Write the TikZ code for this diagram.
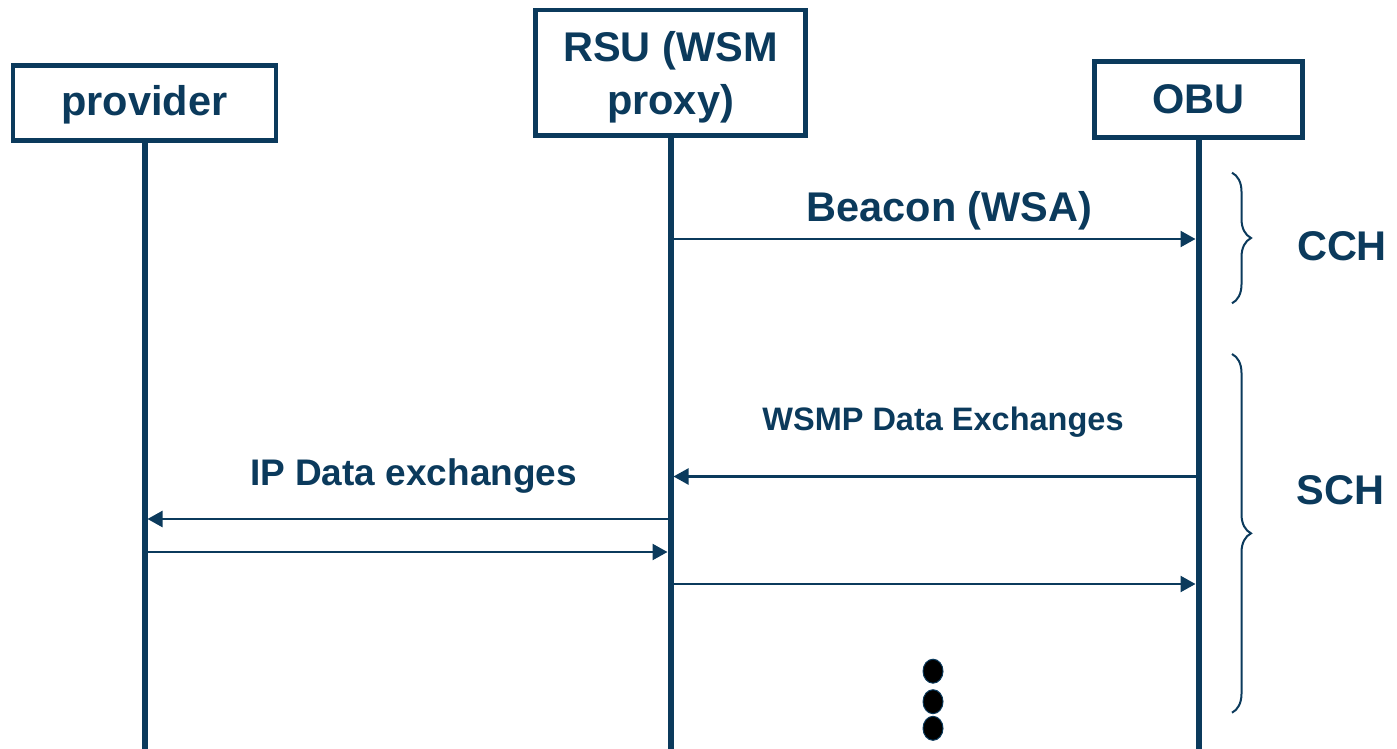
\documentclass[tikz,border=0pt]{standalone}
\usepackage{fontspec}
\setmainfont{Liberation Sans}
\usetikzlibrary{arrows.meta,decorations.pathreplacing}
\definecolor{navy}{HTML}{0B3A5C}
\begin{document}
\begin{tikzpicture}[x=1pt,y=-1pt,
  bigfont/.style={font=\bfseries\fontsize{41.5}{53}\selectfont},
  actor/.style={draw=navy,line width=4.5pt,fill=white,inner sep=0pt,
    text=navy,align=center,bigfont},
  lifeline/.style={draw=navy,line width=6pt},
  msg/.style={draw=navy,line width=2.3pt,shorten >=3pt,shorten <=3pt,
    -{Triangle[length=15pt,width=16pt]}},
  lbl/.style={text=navy,anchor=base,inner sep=0pt},
  chbrace/.style={draw=navy,line width=2pt,decorate,
    decoration={brace,amplitude=19pt}}]
\useasboundingbox (0,0) rectangle (1397,749);

% participants
\node[actor,minimum width=263pt,minimum height=75pt] (provider) at (144.5,103) {\rule{0pt}{34pt}provider};
\node[actor,minimum width=270pt,minimum height=125.5pt] (rsu) at (670.5,72.75) {\rule{0pt}{40pt}RSU (WSM\\proxy)};
\node[actor,minimum width=208pt,minimum height=76pt] (obu) at (1198.5,99.5) {OBU};

% lifelines
\coordinate (bottom) at (0,749);
\draw[lifeline] (provider.south) -- (provider.south |- bottom);
\draw[lifeline] (rsu.south) -- (rsu.south |- bottom);
\draw[lifeline] (obu.south) -- (obu.south |- bottom);

% message rows
\coordinate (m1) at (0,239);
\coordinate (m2) at (0,476.5);
\coordinate (m3) at (0,519);
\coordinate (m4) at (0,552);
\coordinate (m5) at (0,584);

\draw[msg] (rsu.south |- m1) -- (obu.south |- m1);
\draw[msg] (obu.south |- m2) -- (rsu.south |- m2);
\draw[msg] (rsu.south |- m3) -- (provider.south |- m3);
\draw[msg] (provider.south |- m4) -- (rsu.south |- m4);
\draw[msg] (rsu.south |- m5) -- (obu.south |- m5);

% message labels
\node[lbl,bigfont] (beacon) at (949.5,221.7) {Beacon (WSA)};
\node[lbl,font=\bfseries\fontsize{32.5}{38}\selectfont] (wsmp) at (943,430.7) {WSMP Data Exchanges};
\node[lbl,font=\bfseries\fontsize{37}{42}\selectfont] (ip) at (413.5,485) {IP Data exchanges};

% channel intervals
\draw[chbrace] (1232,172.7) -- (1232,303.3);
\draw[chbrace] (1232,354) -- (1232,712.7);
\node[lbl,bigfont] (cch) at (1342,260) {CCH};
\node[lbl,bigfont] (sch) at (1340.5,504.5) {SCH};

% continuation dots
\foreach \y in {671.2,701.7,728.3}
  \filldraw[fill=black,draw=navy,line width=1pt] (933,\y) ellipse [x radius=10pt,y radius=12pt];
\end{tikzpicture}
\end{document}
